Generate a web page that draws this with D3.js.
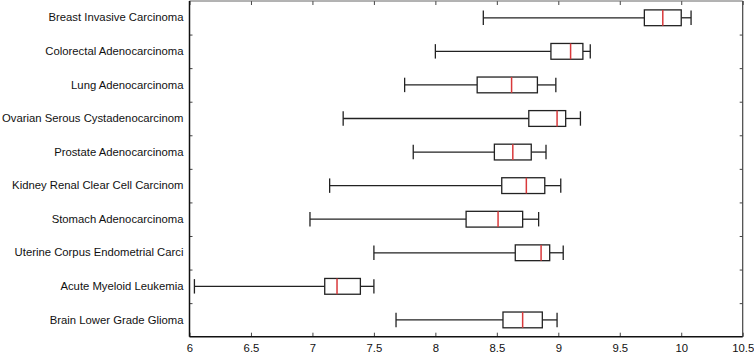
<!DOCTYPE html>
<html>
<head>
<meta charset="utf-8">
<script src="https://cdn.jsdelivr.net/npm/d3@7"></script>
<style>
  body { margin: 0; background: #fff; }
  svg { display: block; }
</style>
</head>
<body>
<div id="chart"></div>
<script>
const categories = [
    "Breast Invasive Carcinoma",
    "Colorectal Adenocarcinoma",
    "Lung Adenocarcinoma",
    "Ovarian Serous Cystadenocarcinom",
    "Prostate Adenocarcinoma",
    "Kidney Renal Clear Cell Carcinom",
    "Stomach Adenocarcinoma",
    "Uterine Corpus Endometrial Carci",
    "Acute Myeloid Leukemia",
    "Brain Lower Grade Glioma"
];
const whiskerLow  = [8.39, 8.00, 7.75, 7.25, 7.82, 7.14, 6.98, 7.50, 6.04, 7.68];
const q1          = [9.70, 8.94, 8.34, 8.76, 8.48, 8.54, 8.25, 8.65, 7.10, 8.55];
const median      = [9.85, 9.10, 8.62, 8.99, 8.63, 8.74, 8.51, 8.86, 7.20, 8.71];
const q3          = [10.00, 9.20, 8.83, 9.06, 8.78, 8.89, 8.71, 8.93, 7.39, 8.87];
const whiskerHigh = [10.08, 9.26, 8.98, 9.18, 8.90, 9.02, 8.84, 9.04, 7.50, 8.99];
const xTicks = [6, 6.5, 7, 7.5, 8, 8.5, 9, 9.5, 10, 10.5];

const W = 754, H = 354;
const margin = { top: 1, right: 11.3, bottom: 17.3, left: 189.5 };
const width = W - margin.left - margin.right;
const height = H - margin.top - margin.bottom;

const svg = d3.select("#chart").append("svg")
    .attr("width", W)
    .attr("height", H)
    .style("font-family", "'Liberation Sans', Arial, sans-serif");

const g = svg.append("g")
    .attr("transform", `translate(${margin.left},${margin.top})`);

const x = d3.scaleLinear().domain([6, 10.5]).range([0, width]);
const y = d3.scaleBand().domain(categories).range([0, height]).padding(0);
// boundaries between rows, for the tick marks
const yb = d3.scaleLinear().domain([0, categories.length]).range([0, height]);
const boundaries = d3.range(1, categories.length);

const data = categories.map((c, i) => ({
    name: c, lo: whiskerLow[i], q1: q1[i], med: median[i], q3: q3[i], hi: whiskerHigh[i]
}));

// bottom axis
const xAxisB = g.append("g")
    .attr("transform", `translate(0,${height})`)
    .call(d3.axisBottom(x).tickValues(xTicks).tickFormat(d3.format("")).tickSizeInner(-4).tickSizeOuter(0).tickPadding(7));
xAxisB.select(".domain").remove();
xAxisB.selectAll("line").attr("stroke", "#444");
xAxisB.selectAll("text").style("font-size", "11.3px").attr("fill", "#111");

// top axis
const xAxisT = g.append("g")
    .call(d3.axisTop(x).tickValues(xTicks).tickFormat("").tickSizeInner(-4).tickSizeOuter(0));
xAxisT.select(".domain").remove();
xAxisT.selectAll("line").attr("stroke", "#444");

// left category labels
const yAxisL = g.append("g")
    .call(d3.axisLeft(y).tickSize(0).tickPadding(6));
yAxisL.select(".domain").remove();
yAxisL.selectAll("text").style("font-size", "11.3px").attr("fill", "#111");

// left / right boundary ticks
const yTickL = g.append("g")
    .call(d3.axisLeft(yb).tickValues(boundaries).tickFormat("").tickSizeInner(-3).tickSizeOuter(0));
yTickL.select(".domain").remove();
yTickL.selectAll("line").attr("stroke", "#444");

const yTickR = g.append("g")
    .attr("transform", `translate(${width},0)`)
    .call(d3.axisRight(yb).tickValues(boundaries).tickFormat("").tickSizeInner(-3).tickSizeOuter(0));
yTickR.select(".domain").remove();
yTickR.selectAll("line").attr("stroke", "#444");

// frame
g.append("line").attr("x1", 0).attr("x2", width).attr("y1", 0).attr("y2", 0)
    .attr("stroke", "#666").attr("stroke-width", 1);
g.append("line").attr("x1", width).attr("x2", width).attr("y1", 0).attr("y2", height)
    .attr("stroke", "#444").attr("stroke-width", 1.2);
g.append("line").attr("x1", 0).attr("x2", 0).attr("y1", 0).attr("y2", height)
    .attr("stroke", "#111").attr("stroke-width", 1.5);
g.append("line").attr("x1", 0).attr("x2", width).attr("y1", height).attr("y2", height)
    .attr("stroke", "#111").attr("stroke-width", 1.5);

// boxes
const boxH = y.bandwidth() * 0.47;
const capH = y.bandwidth() * 0.43;
const rows = g.selectAll(".row")
    .data(data)
    .enter().append("g")
    .attr("class", "row")
    .attr("transform", d => `translate(0,${y(d.name) + y.bandwidth() / 2})`);

rows.append("line")
    .attr("x1", d => x(d.lo)).attr("x2", d => x(d.q1))
    .attr("stroke", "#222").attr("stroke-width", 1.3);
rows.append("line")
    .attr("x1", d => x(d.q3)).attr("x2", d => x(d.hi))
    .attr("stroke", "#222").attr("stroke-width", 1.3);
rows.append("line")
    .attr("x1", d => x(d.lo)).attr("x2", d => x(d.lo))
    .attr("y1", -capH / 2).attr("y2", capH / 2)
    .attr("stroke", "#222").attr("stroke-width", 1.3);
rows.append("line")
    .attr("x1", d => x(d.hi)).attr("x2", d => x(d.hi))
    .attr("y1", -capH / 2).attr("y2", capH / 2)
    .attr("stroke", "#222").attr("stroke-width", 1.3);
rows.append("rect")
    .attr("x", d => x(d.q1))
    .attr("y", -boxH / 2)
    .attr("width", d => x(d.q3) - x(d.q1))
    .attr("height", boxH)
    .attr("fill", "#fff")
    .attr("stroke", "#222").attr("stroke-width", 1.3);
rows.append("line")
    .attr("x1", d => x(d.med)).attr("x2", d => x(d.med))
    .attr("y1", -boxH / 2).attr("y2", boxH / 2)
    .attr("stroke", "#d9393b").attr("stroke-width", 1.5);
</script>
</body>
</html>
